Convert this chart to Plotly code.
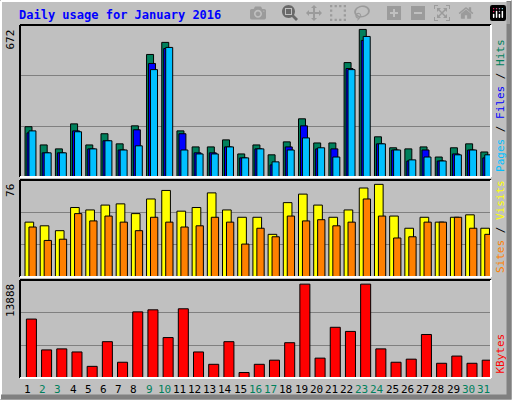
import plotly.graph_objects as go

days = list(range(1, 32))
weekend = {2, 3, 9, 10, 16, 17, 23, 24, 30, 31}

# values (pixel heights converted to units)
hits_px = [50, 32, 28, 53, 32, 43, 33, 51, 122, 134, 46, 30, 30, 37, 23, 32,
           22, 35, 58, 34, 34, 114, 147, 40, 29, 28, 30, 20, 29, 33, 25]
files_px = [44, 24, 24, 46, 28, 36, 27, 47, 113, 128, 43, 24, 24, 30, 19, 28,
            12, 30, 51, 28, 28, 108, 136, 33, 27, 16, 27, 16, 23, 27, 19]
pages_px = [46, 24, 24, 45, 28, 36, 27, 31, 107, 129, 27, 23, 23, 30, 19, 28,
            15, 27, 39, 29, 20, 107, 140, 33, 27, 17, 20, 16, 22, 27, 22]
visits_px = [165, 153, 138, 207, 201, 216, 219, 189, 231, 258, 195, 207, 252, 198, 177, 177,
             126, 222, 246, 216, 177, 198, 264, 276, 183, 147, 177, 162, 177, 186, 147]
sites_px = [150, 108, 111, 189, 168, 183, 162, 138, 177, 165, 150, 153, 177, 162, 99, 147,
            120, 183, 168, 171, 153, 165, 234, 180, 117, 120, 162, 162, 177, 144, 126]
kbytes_px = [172, 82, 85, 76, 34, 106, 46, 193, 199, 118, 202, 76, 40, 106, 16, 40,
             52, 103, 274, 58, 148, 136, 274, 85, 46, 55, 127, 43, 64, 43, 52]

hits = [round(v * 672 / 147) for v in hits_px]
files = [round(v * 672 / 147) for v in files_px]
pages = [round(v * 672 / 147) for v in pages_px]
visits = [round(v * 76 / 276) for v in visits_px]
sites = [round(v * 76 / 276) for v in sites_px]
kbytes = [round(v * 13888 / 274) for v in kbytes_px]

GRID = "#808080"
MONO = "DejaVu Sans Mono"
L, R, T, B = 20, 21, 25, 22
PW, PH = 512 - L - R, 400 - T - B


def px(x):
    return (x - L) / PW


def py(y):
    return (400 - B - y) / PH


fig = go.Figure()
line = dict(color="black", width=1)


def bar(y, color, off, w, ya):
    fig.add_trace(go.Bar(x=days, y=y, offset=off, width=w, marker=dict(color=color, line=line),
                         xaxis="x", yaxis=ya, showlegend=False))


bar(hits, "#00805C", -0.17, 0.46, "y")
bar(files, "#0000FF", -0.04, 0.46, "y")
bar(pages, "#00C0FF", 0.09, 0.46, "y")
bar(visits, "#FFFF00", -0.17, 0.57, "y2")
bar(sites, "#FF8000", 0.09, 0.48, "y2")
bar(kbytes, "#FF0000", -0.08, 0.66, "y3")

top_max = max(hits) * 1.03
mid_max = max(visits) * 1.047
bot_max = max(kbytes) * 1.044

doms = [[py(177), py(25)], [py(277), py(180)], [py(378), py(280)]]


def yax(dom, mx):
    return dict(domain=dom, range=[0, mx], tickvals=[mx / 3, 2 * mx / 3], showticklabels=False,
                showgrid=True, gridcolor=GRID, gridwidth=1, zeroline=False, fixedrange=True,
                anchor="x")


fig.update_layout(
    width=512, height=400, barmode="overlay",
    paper_bgcolor="#C0C0C0", plot_bgcolor="#C0C0C0",
    margin=dict(l=L, r=R, t=T, b=B, autoexpand=False),
    xaxis=dict(range=[0.5, 31.5], showticklabels=False, showgrid=False, zeroline=False, ticks=""),
    yaxis=yax(doms[0], top_max),
    yaxis2=yax(doms[1], mid_max),
    yaxis3=yax(doms[2], bot_max),
    font=dict(family=MONO, size=11, color="black"),
)

# panel frames (sunken look)
for dom in doms:
    y0, y1 = dom
    x0, x1 = 0, 1
    fig.add_shape(type="line", xref="paper", yref="paper", x0=x0, x1=x1, y0=y1, y1=y1,
                  line=dict(color="black", width=2))
    fig.add_shape(type="line", xref="paper", yref="paper", x0=x0, x1=x0, y0=y0, y1=y1,
                  line=dict(color="black", width=2))
    fig.add_shape(type="line", xref="paper", yref="paper", x0=x0, x1=x1, y0=y0, y1=y0,
                  line=dict(color="white", width=2))
    fig.add_shape(type="line", xref="paper", yref="paper", x0=x1, x1=x1, y0=y0, y1=y1,
                  line=dict(color="white", width=2))

# outer bevel
fig.add_shape(type="line", xref="paper", yref="paper", x0=px(1), x1=px(511), y0=py(1), y1=py(1),
              line=dict(color="white", width=2))
fig.add_shape(type="line", xref="paper", yref="paper", x0=px(1), x1=px(1), y0=py(1), y1=py(399),
              line=dict(color="white", width=2))
fig.add_shape(type="line", xref="paper", yref="paper", x0=px(1), x1=px(511), y0=py(397), y1=py(397),
              line=dict(color="#808080", width=5))
fig.add_shape(type="line", xref="paper", yref="paper", x0=px(509), x1=px(509), y0=py(1), y1=py(399),
              line=dict(color="#808080", width=5))

fig.add_annotation(text="<b>Daily usage for January 2016</b>", xref="paper", yref="paper",
                   x=px(17), y=py(15), xanchor="left", yanchor="middle", showarrow=False,
                   font=dict(color="#0000FF", size=12, family=MONO))

for ya, label in (("y domain", str(max(hits))), ("y2 domain", str(max(visits))),
                  ("y3 domain", str(max(kbytes)))):
    fig.add_annotation(text=label, xref="paper", yref=ya, x=px(19), y=0.98, xanchor="right",
                       yanchor="top", textangle=-90, showarrow=False, font=dict(size=11))

right = [
    ("y domain", '<span style="color:#00C0FF">Pages</span> / <span style="color:#0000FF">Files</span> / <span style="color:#00805C">Hits</span>'),
    ("y2 domain", '<span style="color:#FF8000">Sites</span> / <span style="color:#FFFF00">Visits</span>'),
    ("y3 domain", '<span style="color:#FF0000">KBytes</span>'),
]
for ya, label in right:
    fig.add_annotation(text=label, xref="paper", yref=ya, x=px(492), y=0.02, xanchor="left",
                       yanchor="bottom", textangle=-90, showarrow=False, font=dict(size=11))

for d in days:
    fig.add_annotation(text=str(d), xref="x", yref="paper", x=d, y=py(381), yanchor="top",
                       showarrow=False, font=dict(size=11, color="#00805C" if d in weekend else "black"))

fig.write_html("out.html", post_script="document.body.style.margin='0';")
